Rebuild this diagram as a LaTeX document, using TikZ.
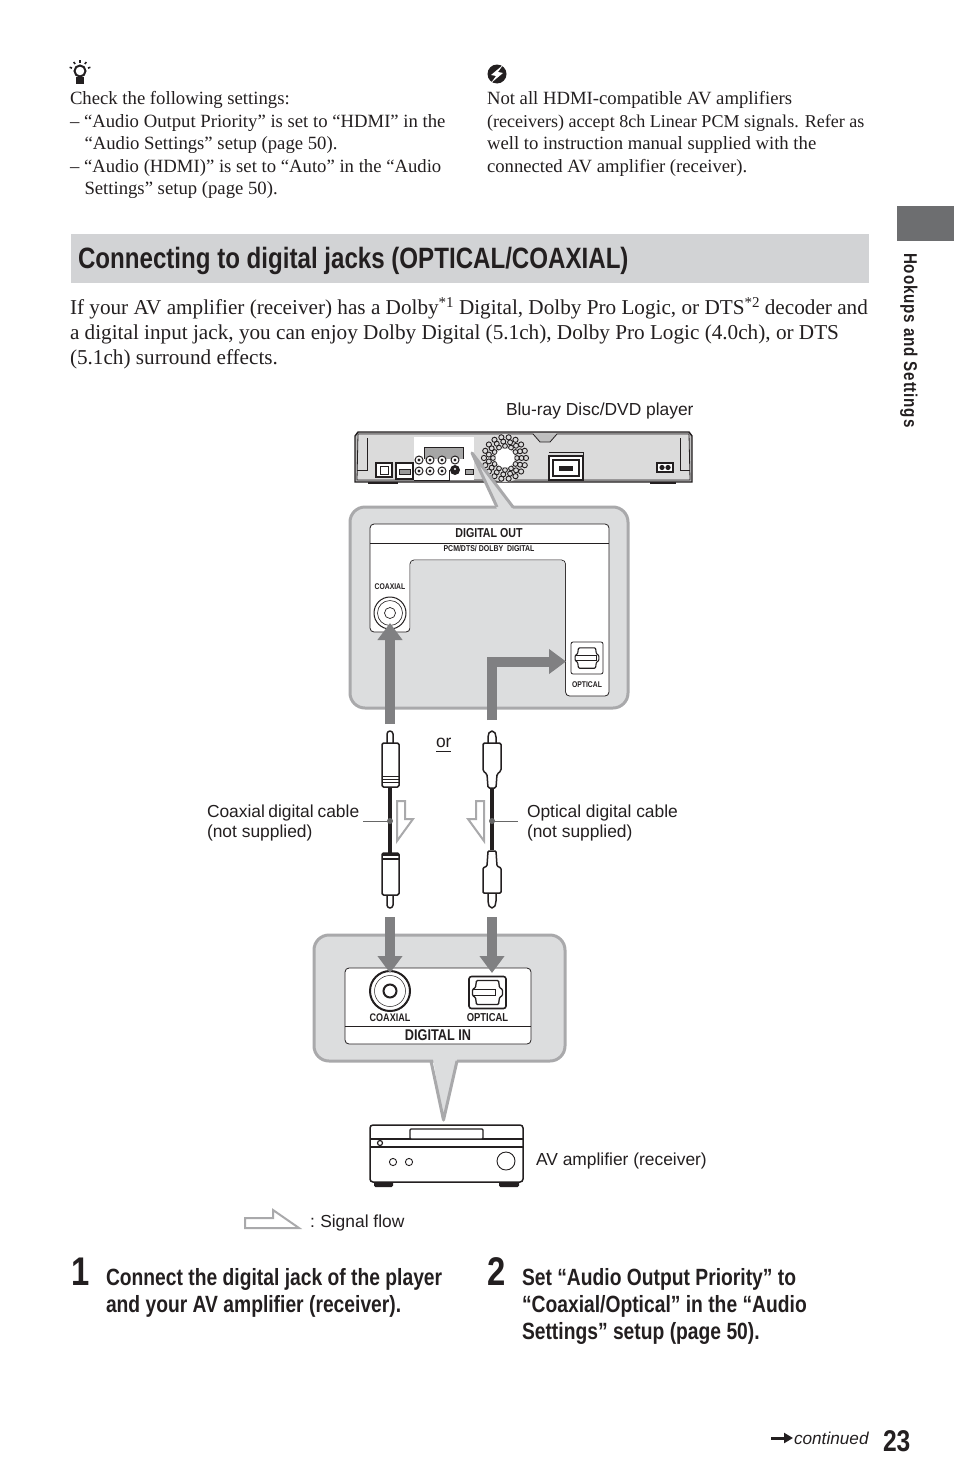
\documentclass[tikz,border=0pt]{standalone}
\usepackage{fontspec}
\setmainfont{Liberation Serif}
\setsansfont{Liberation Sans}
\newfontfamily\cond[FakeStretch=0.82]{Liberation Sans}
\newfontfamily\condsp[FakeStretch=0.82,LetterSpace=4.5]{Liberation Sans}
\usetikzlibrary{arrows.meta,calc}
\definecolor{ink}{HTML}{231F20}
\definecolor{band}{HTML}{D2D3D5}
\definecolor{bub}{HTML}{DCDDDE}
\definecolor{bubline}{HTML}{A9A9AB}
\definecolor{flow}{HTML}{808082}
\definecolor{side}{HTML}{6D6E70}
\newcommand{\bodyf}{\fontsize{18.7}{22}\selectfont}
\newcommand{\paraf}{\fontsize{21.2}{25}\selectfont}
\newcommand{\sansf}{\sffamily\fontsize{17.4}{20}\selectfont}
\newcommand{\stepf}{\cond\bfseries\fontsize{23.5}{27}\selectfont}
\tikzset{
  txt/.style={anchor=base west,inner sep=0,outer sep=0,text=ink,font=\bodyf},
  para/.style={txt,font=\paraf},
  lab/.style={txt,font=\sansf},
  steptxt/.style={txt,font=\stepf},
  mini/.style={anchor=base,inner sep=0,outer sep=0,text=ink},
  sigarrow/.style={draw=flow,line width=10pt,-{Triangle[length=17pt,width=24pt]}},
  bubble/.style={draw=bubline,line width=3pt,fill=bub,rounded corners=15pt},
  hollow/.style={draw=bubline,line width=2pt,fill=white,miter limit=10},
  leader/.style={draw=gray!80!black,line width=1pt},
  cablewire/.style={draw=ink,line width=3.5pt},
  plug/.style={draw=ink,line width=1.5pt,fill=white,line join=round},
  thinln/.style={draw=ink,line width=0.8pt},
  med/.style={draw=ink,line width=1.1pt},
}
\begin{document}
\begin{tikzpicture}[x=1pt,y=-1pt]
\path[use as bounding box,fill=white] (0,0) rectangle (954,1483);

% ---- tip icon
\draw[ink,line width=2pt,fill=white] (80,71) circle (5.5);
\fill[ink] (76,77) rectangle (84,84);
\foreach \a in {-160,-125,-90,-55,-20}{\draw[ink,line width=1.6pt] ($(80,71)+(\a:8.5)$) -- ($(80,71)+(\a:11)$);}
% ---- note icon
\fill[ink] (497,74) circle (9.5);
\fill[white] (503,65) -- (491,75) -- (496,76) -- (491,83) -- (503,73) -- (498,72) -- cycle;

% ---- top text
\node[txt] (l1) at (70,104) {Check the following settings:};
\node[txt] (l2) at (70,127) {– “Audio Output Priority” is set to “HDMI” in the};
\node[txt] (l3) at (84.5,149) {“Audio Settings” setup (page 50).};
\node[txt] (l4) at (70,172) {– “Audio (HDMI)” is set to “Auto” in the “Audio};
\node[txt] (l5) at (84.5,194) {Settings” setup (page 50).};
\node[txt] (r1) at (487,104) {Not all HDMI-compatible AV amplifiers};
\node[txt,font=\fontsize{18.05}{22}\selectfont] (r2) at (487,127) {(receivers) accept 8ch Linear PCM signals. Refer as};
\node[txt] (r3) at (487,149) {well to instruction manual supplied with the};
\node[txt] (r4) at (487,172) {connected AV amplifier (receiver).};

% ---- heading band
\fill[band] (71,234) rectangle (869,283);
\node[txt,font=\cond\bfseries\fontsize{29.4}{32}\selectfont] (head) at (78,268) {Connecting to digital jacks (OPTICAL/COAXIAL)};

% ---- side tab
\fill[side] (897,206) rectangle (954,241);
\node[anchor=base west,inner sep=0,text=ink,rotate=-90,font=\condsp\bfseries\fontsize{18.5}{20}\selectfont] (sidet) at (904,253) {Hookups and Settings};

% ---- paragraph
\node[para] (p1) at (70,314) {If your AV amplifier (receiver) has a Dolby\raisebox{7pt}{\fontsize{15}{15}\selectfont *1} Digital, Dolby Pro Logic, or DTS\raisebox{7pt}{\fontsize{15}{15}\selectfont *2} decoder and};
\node[para] (p2) at (70,339) {a digital input jack, you can enjoy Dolby Digital (5.1ch), Dolby Pro Logic (4.0ch), or DTS};
\node[para] (p3) at (70,364) {(5.1ch) surround effects.};

% ---- player
\node[lab] (playerlab) at (506,415) {Blu-ray Disc/DVD player};
\draw[ink,line width=1.4pt,fill=black!25] (358,432) -- (689,432) -- (692,436) -- (692,482) -- (355,482) -- (355,436) -- cycle;
\draw[thinln,fill=black!14] (358,434) -- (533,434) -- (540,442) -- (550,442) -- (557,434) -- (689,434) -- (690,480) -- (357,480) -- cycle;
\draw[thinln] (367,438) -- (367,470) -- (357,470); \draw[thinln] (680,438) -- (680,470) -- (690,470);
\fill[ink] (368,482) rectangle (398,484); \fill[ink] (650,482) rectangle (676,484);
% back panel
\fill[white] (414,437) rectangle (474,480);
\fill[black!35] (424,447) rectangle (464,459);
\draw[thinln] (424,459) -- (424,447) -- (463,447) -- (463,459);
\draw[thinln] (414,480) -- (449,480) -- (449,470);
\foreach \jx/\jy in {419/460,430/460,442/460,455/460,419/471,430/471,442/471}{
  \draw[ink,line width=1pt,fill=white] (\jx,\jy) circle (4); \fill[ink] (\jx,\jy) circle (1.6);}
\fill[ink] (455,470) circle (5);\fill[white] (455,469) circle (1.2);
\draw[thinln,fill=black!35] (465,469) rectangle (473,474);
\draw[med,fill=white] (376,463) rectangle (392,477);\draw[thinln] (380,466) rectangle (388,474);
\draw[med,fill=white] (396,463) rectangle (413,479);\draw[thinln,fill=black!40] (399,469) rectangle (410,474);
\draw[med,fill=white] (549,456) rectangle (583,480);\draw[med] (553,460) rectangle (579,476);\fill[ink] (559,466) rectangle (573,471);
\draw[thinln] (549,452) -- (583,452) -- (583,456);
\draw[med,fill=white] (657,463) rectangle (673,472);\fill[ink] (662,467.5) circle (2.6);\fill[ink] (668,467.5) circle (2.6);
% fan
\fill[black!14] (505,458) circle (24);
\foreach \rr/\st/\sz in {12/30/2.4,16.5/24/2.5,21/20/2.6}{
 \foreach \a in {0,\st,...,359}{\draw[ink,line width=.9pt] ($(505,458)+(\a:\rr)$) circle (\sz);}}
\fill[white] (505,458) circle (9.5);

% ---- upper bubble
\draw[bubble] (350,507) rectangle (628,708);
\fill[bub] (472,453) -- (497,509) -- (513,509) -- cycle;
\draw[bubline,line width=3pt,line join=round] (497,507) -- (472,453) -- (513,507);
\draw[ink,line width=.8pt,fill=white,rounded corners=4pt] (370,524) -- (609,524) -- (609,696) -- (565.5,696) -- (565.5,560) -- (410,560) -- (410,632) -- (370,632) -- cycle;
\fill[bub,rounded corners=4pt] (410.4,560.4) rectangle (565.1,697.5);
\draw[ink,line width=.8pt] (370,543) -- (609,543);
\node[mini,font=\cond\bfseries\fontsize{13}{14}\selectfont] (dout) at (489,537.5) {DIGITAL OUT};
\node[mini,font=\cond\bfseries\fontsize{8.5}{9}\selectfont] (pcm) at (489,551) {PCM/DTS/ DOLBY\ \ DIGITAL};
\node[mini,font=\cond\bfseries\fontsize{8.3}{9}\selectfont] (coaxlab) at (390,589.5) {COAXIAL};
\node[mini,font=\cond\bfseries\fontsize{8.3}{9}\selectfont] (optlab) at (587,687.5) {OPTICAL};
\node[circle,draw=ink,line width=1pt,fill=white,minimum size=32pt,inner sep=0] (coaxout) at (390,613) {};
\draw[ink,line width=.6pt] (coaxout.center) circle (12.5);
\draw[ink,line width=.7pt] (coaxout.center) circle (5.5);
\node[draw=ink,line width=.8pt,fill=white,rounded corners=2pt,minimum width=32pt,minimum height=32pt,inner sep=0] (optout) at (587,658) {};
\begin{scope}[shift={(optout.center)},scale=.85]
 \draw[ink,line width=1.1pt,rounded corners=1pt] (-10,-12) -- (10,-12) -- (11,-5) -- (14,-3) -- (14,3) -- (11,5) -- (10,12) -- (-10,12) -- (-11,5) -- (-14,3) -- (-14,-3) -- (-11,-5) -- cycle;
 \draw[ink,line width=1.1pt] (-14,-3) -- (11,-3) -- (11,3) -- (-14,3);
\end{scope}

% ---- arrows into player
\coordinate (a1s) at (390,724); \coordinate (a1e) at (390,623);
\coordinate (a2s) at (492,720); \coordinate (a2e) at (566,661.5);
\draw[sigarrow] (a1s) -- (a1e);
\draw[sigarrow] (a2s) |- (a2e);

% ---- or
\node[lab] (ortxt) at (436,747) {or};
\coordinate (oru1) at (436,751.5); \coordinate (oru2) at (451,751.5);
\draw[ink,line width=1.2pt] (oru1) -- (oru2);

% ---- coaxial cable
\coordinate (cc1) at (390,787); \coordinate (cc2) at (390,853); \coordinate (ccm) at (390,821); \coordinate (ccl) at (363,821);
\draw[cablewire] (cc1) -- (cc2);
\draw[plug,rounded corners=3pt] (387,743) -- (387,731) -- (393,731) -- (393,743);
\draw[plug,rounded corners=1.5pt] (382,743) rectangle (399,787);
\draw[thinln] (382,776) -- (399,776); \draw[thinln] (382,779) -- (399,779); \draw[thinln] (382,782) -- (399,782);
\draw[plug,rounded corners=3pt] (387,895) -- (387,908) -- (393,908) -- (393,895);
\draw[plug,rounded corners=1.5pt] (382,853) rectangle (399,895);
\fill[ink] (382,853) rectangle (399,856); \fill[ink] (382,858) rectangle (399,860);
\draw[leader] (ccl) -- (ccm); \fill[gray!80!black] (ccm) circle (3);
% ---- optical cable
\coordinate (oc1) at (492,788); \coordinate (oc2) at (492,850); \coordinate (ocm) at (492,821); \coordinate (ocr) at (518,821);
\draw[cablewire] (oc1) -- (oc2);
\draw[plug,rounded corners=2pt] (488,743) -- (488,735) -- (490,731) -- (494,731) -- (496,735) -- (496,743);
\draw[plug,rounded corners=1.5pt] (483,743) -- (501,743) -- (501,771) -- (497,774) -- (496,788) -- (488,788) -- (487,774) -- (483,771) -- cycle;
\draw[plug,rounded corners=2pt] (488,893) -- (488,903) -- (490,908) -- (494,908) -- (496,903) -- (496,893);
\draw[plug,rounded corners=1pt] (488,851) -- (496,851) -- (497,866) -- (501,868) -- (501,893) -- (483,893) -- (483,868) -- (487,866) -- cycle;
\draw[leader] (ocm) -- (ocr); \fill[gray!80!black] (ocm) circle (3);
% ---- hollow flow arrows
\draw[hollow] (397,801) -- (405,801) -- (405,819) -- (413,819) -- (397,841) -- cycle;
\draw[hollow] (484,801) -- (476,801) -- (476,819) -- (468,819) -- (484,841) -- cycle;
\node[lab] (cl1) at (207,817) {Coaxial\hspace{-1.5pt} digital\hspace{-1pt} cable};
\node[lab] (cl2) at (207,837) {(not supplied)};
\node[lab] (ol1) at (527,817) {Optical digital cable};
\node[lab] (ol2) at (527,837) {(not supplied)};

% ---- lower bubble
\draw[bubble] (314,935) rectangle (565,1061);
\fill[bub] (433,1059) -- (457,1059) -- (443.5,1121) -- cycle;
\draw[bubline,line width=3pt,line join=round] (431,1061) -- (443.5,1120) -- (457,1061);
\draw[ink,line width=.8pt,fill=white,rounded corners=4pt] (345,968) rectangle (531,1044);
\draw[ink,line width=.8pt] (345,1026) -- (531,1026);
\node[circle,draw=ink,line width=2pt,fill=white,minimum size=40pt,inner sep=0] (coaxin) at (390,991) {};
\draw[ink,line width=.5pt] (coaxin.center) circle (15.5);
\draw[ink,line width=2pt] (coaxin.center) circle (6.5);
\node[draw=ink,line width=1.6pt,fill=white,rounded corners=2.5pt,minimum width=37pt,minimum height=32pt,inner sep=0] (optin) at (487.5,992.5) {};
\begin{scope}[shift={(optin.center)}]
 \draw[ink,line width=1.3pt,rounded corners=1pt] (-11,-12) -- (11,-12) -- (12,-5) -- (15,-3) -- (15,3) -- (12,5) -- (11,12) -- (-11,12) -- (-12,5) -- (-15,3) -- (-15,-3) -- (-12,-5) -- cycle;
 \draw[ink,line width=1.3pt] (-15,-3) -- (8,-3) -- (8,3) -- (-15,3);
\end{scope}
\node[mini,font=\cond\bfseries\fontsize{11}{12}\selectfont] (cin) at (390,1021.5) {COAXIAL};
\node[mini,font=\cond\bfseries\fontsize{11.5}{12}\selectfont] (oin) at (487.5,1021.5) {OPTICAL};
\node[mini,font=\cond\bfseries\fontsize{15.5}{16}\selectfont] (dinl) at (438,1040.5) {DIGITAL IN};
\coordinate (b1s) at (390,917); \coordinate (b1e) at (390,973);
\coordinate (b2s) at (492,917); \coordinate (b2e) at (492,973);
\draw[sigarrow] (b1s) -- (b1e);
\draw[sigarrow] (b2s) -- (b2e);

% ---- amplifier
\fill[ink,rounded corners=1.5pt] (374,1178) rectangle (393,1187);
\fill[ink,rounded corners=1.5pt] (499,1178) rectangle (519,1187);
\node[draw=ink,line width=1.5pt,fill=white,rounded corners=3pt,minimum width=153pt,minimum height=57pt,inner sep=0] (amp) at (446.5,1153.5) {};
\draw[med] (370,1139) -- (523,1139); \draw[med] (370,1147) -- (523,1147);
\draw[med,fill=white,rounded corners=1pt] (410,1129) rectangle (483,1139);
\draw[ink,line width=1.2pt] (380,1143) circle (2.5);
\draw[ink,line width=.9pt] (393,1162) circle (3.6);
\draw[ink,line width=.9pt] (409,1162) circle (3.6);
\draw[ink,line width=.9pt] (506,1161) circle (9);
\node[lab] (amplab) at (536,1165) {AV amplifier (receiver)};

% ---- legend
\draw[hollow] (245,1218) -- (273,1218) -- (273,1210) -- (299,1228) -- (245,1228) -- cycle;
\node[lab] (sigl) at (310,1227) {:\hspace{-1pt} Signal flow};

% ---- steps
\node[txt,font=\cond\bfseries\fontsize{40}{42}\selectfont] (n1) at (71,1285) {1};
\node[steptxt] (s1a) at (106,1285) {Connect the digital jack of the player};
\node[steptxt] (s1b) at (106,1312) {and your AV amplifier (receiver).};
\node[txt,font=\cond\bfseries\fontsize{40}{42}\selectfont] (n2) at (487,1285) {2};
\node[steptxt] (s2a) at (522,1285) {Set “Audio Output Priority” to};
\node[steptxt] (s2b) at (522,1312) {“Coaxial/Optical” in the “Audio};
\node[steptxt] (s2c) at (522,1339) {Settings” setup (page 50).};

% ---- footer
\coordinate (fa) at (771,1438); \coordinate (fb) at (793,1438);
\draw[ink,line width=3pt,-{Triangle[length=9pt,width=10pt]}] (fa) -- (fb);
\node[txt,font=\sffamily\itshape\fontsize{17.2}{20}\selectfont] (cont) at (794,1444) {continued};
\node[txt,font=\cond\bfseries\fontsize{30}{34}\selectfont] (pg) at (883,1451) {23};
\end{tikzpicture}
\end{document}
